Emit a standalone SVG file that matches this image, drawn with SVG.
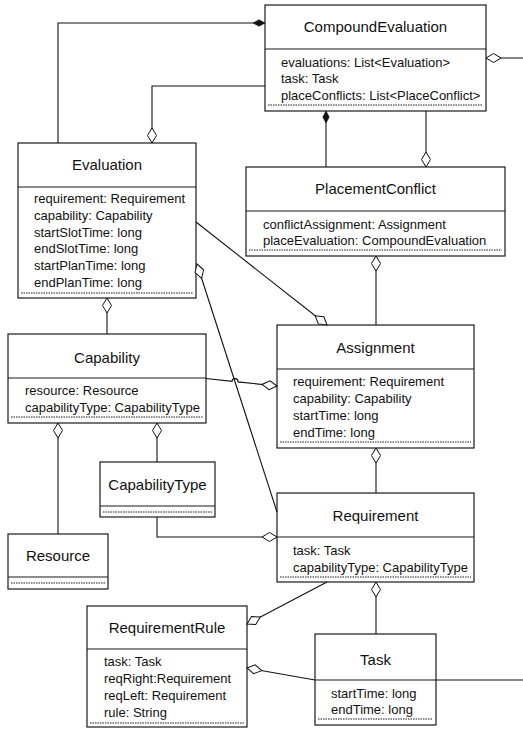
<svg xmlns="http://www.w3.org/2000/svg" width="523" height="731" viewBox="0 0 523 731">
<style>
.box{fill:#fff;stroke:#1a1a1a;stroke-width:1.2}
.sep{stroke:#1a1a1a;stroke-width:1.2}
.dot{stroke:#1a1a1a;stroke-width:1;stroke-dasharray:1.5 1}
.title{font-family:"Liberation Sans",Arial,sans-serif;font-size:15px;fill:#111;text-anchor:middle}
.attr{font-family:"Liberation Sans",Arial,sans-serif;font-size:13px;fill:#111}
.conn{fill:none;stroke:#111;stroke-width:1.1}
</style>
<defs>
<marker id="od" markerUnits="userSpaceOnUse" markerWidth="18" markerHeight="12" viewBox="-1 -6 18 12" refX="0" refY="0" orient="auto" overflow="visible"><path d="M0,0 L7.5,-4.5 L15,0 L7.5,4.5 Z" fill="#fff" stroke="#111" stroke-width="1"/></marker>
<marker id="fd" markerUnits="userSpaceOnUse" markerWidth="14" markerHeight="8" viewBox="-1 -4 14 8" refX="0" refY="0" orient="auto" overflow="visible"><path d="M0,0 L6,-3.2 L12,0 L6,3.2 Z" fill="#111" stroke="#111" stroke-width="0.6"/></marker>
</defs>
<rect width="523" height="731" fill="#fff"/>

<g id="CompoundEvaluation">
<rect class="box" x="265" y="5" width="221" height="106"/>
<line class="sep" x1="265" y1="49" x2="486" y2="49"/>
<text class="title" x="375.5" y="32">CompoundEvaluation</text>
<text class="attr" x="281" y="66.5">evaluations: List&lt;Evaluation&gt;</text>
<text class="attr" x="281" y="83">task: Task</text>
<text class="attr" x="281" y="99.5">placeConflicts: List&lt;PlaceConflict&gt;</text>
<line class="dot" x1="268" y1="105" x2="483" y2="105"/>
</g>

<g id="Evaluation">
<rect class="box" x="18" y="143" width="178" height="155"/>
<line class="sep" x1="18" y1="187" x2="196" y2="187"/>
<text class="title" x="107" y="170">Evaluation</text>
<text class="attr" x="34" y="203">requirement: Requirement</text>
<text class="attr" x="34" y="219.8">capability: Capability</text>
<text class="attr" x="34" y="236.6">startSlotTime: long</text>
<text class="attr" x="34" y="253.4">endSlotTime: long</text>
<text class="attr" x="34" y="270.2">startPlanTime: long</text>
<text class="attr" x="34" y="287">endPlanTime: long</text>
<line class="dot" x1="21" y1="293" x2="193" y2="293"/>
</g>

<g id="PlacementConflict">
<rect class="box" x="246" y="167" width="259" height="89"/>
<line class="sep" x1="246" y1="211" x2="505" y2="211"/>
<text class="title" x="375.5" y="194">PlacementConflict</text>
<text class="attr" x="263" y="228.5">conflictAssignment: Assignment</text>
<text class="attr" x="263" y="244.5">placeEvaluation: CompoundEvaluation</text>
<line class="dot" x1="249" y1="250" x2="502" y2="250"/>
</g>

<g id="Capability">
<rect class="box" x="8" y="334" width="198" height="89"/>
<line class="sep" x1="8" y1="378" x2="206" y2="378"/>
<text class="title" x="107" y="363">Capability</text>
<text class="attr" x="25" y="395">resource: Resource</text>
<text class="attr" x="25" y="412">capabilityType: CapabilityType</text>
<line class="dot" x1="11" y1="417" x2="203" y2="417"/>
</g>

<g id="Assignment">
<rect class="box" x="277" y="325" width="197" height="123"/>
<line class="sep" x1="277" y1="369" x2="474" y2="369"/>
<text class="title" x="375.5" y="353">Assignment</text>
<text class="attr" x="293" y="386">requirement: Requirement</text>
<text class="attr" x="293" y="403">capability: Capability</text>
<text class="attr" x="293" y="420">startTime: long</text>
<text class="attr" x="293" y="437">endTime: long</text>
<line class="dot" x1="280" y1="442" x2="471" y2="442"/>
</g>

<g id="CapabilityType">
<rect class="box" x="100" y="462" width="115" height="55"/>
<line class="sep" x1="100" y1="506" x2="215" y2="506"/>
<text class="title" x="157.5" y="490">CapabilityType</text>
<line class="dot" x1="103" y1="512" x2="212" y2="512"/>
</g>

<g id="Resource">
<rect class="box" x="8" y="534" width="100" height="55"/>
<line class="sep" x1="8" y1="577" x2="108" y2="577"/>
<text class="title" x="58" y="561">Resource</text>
<line class="dot" x1="11" y1="583" x2="105" y2="583"/>
</g>

<g id="Requirement">
<rect class="box" x="277" y="493" width="197" height="89"/>
<line class="sep" x1="277" y1="537" x2="474" y2="537"/>
<text class="title" x="375.5" y="521">Requirement</text>
<text class="attr" x="293" y="554.5">task: Task</text>
<text class="attr" x="293" y="571.5">capabilityType: CapabilityType</text>
<line class="dot" x1="280" y1="577" x2="471" y2="577"/>
</g>

<g id="RequirementRule">
<rect class="box" x="87" y="606" width="160" height="121"/>
<line class="sep" x1="87" y1="649" x2="247" y2="649"/>
<text class="title" x="167" y="633">RequirementRule</text>
<text class="attr" x="104" y="666">task: Task</text>
<text class="attr" x="104" y="683">reqRight:Requirement</text>
<text class="attr" x="104" y="700">reqLeft: Requirement</text>
<text class="attr" x="104" y="716.5">rule: String</text>
<line class="dot" x1="90" y1="723" x2="244" y2="723"/>
</g>

<g id="Task">
<rect class="box" x="315" y="634" width="121" height="91"/>
<line class="sep" x1="315" y1="680" x2="436" y2="680"/>
<text class="title" x="375.5" y="665">Task</text>
<text class="attr" x="331" y="697.5">startTime: long</text>
<text class="attr" x="331" y="714">endTime: long</text>
<line class="dot" x1="318" y1="719" x2="433" y2="719"/>
</g>

<g id="connectors">
<path class="conn" marker-start="url(#fd)" d="M265,23 L58,23 L58,143"/>
<path class="conn" marker-start="url(#od)" d="M152,143 L152,86 L265,86"/>
<path class="conn" marker-start="url(#od)" d="M486,58 L523,58"/>
<path class="conn" marker-start="url(#fd)" d="M326,111 L326,167"/>
<path class="conn" marker-start="url(#od)" d="M426,167 L426,111"/>
<path class="conn" marker-start="url(#od)" d="M376,256 L376,325"/>
<path class="conn" marker-start="url(#od)" d="M327,325 L196,222"/>
<path class="conn" marker-start="url(#od)" d="M197,264 L277,512"/>
<path class="conn" marker-start="url(#od)" d="M107,298 L107,334"/>
<path class="conn" marker-start="url(#od)" d="M277,386 L238,381.9 A3,3 0 0 0 232,381.3 L206,378.5"/>
<path class="conn" marker-start="url(#od)" d="M58,423 L58,534"/>
<path class="conn" marker-start="url(#od)" d="M157,423 L157,462"/>
<path class="conn" marker-start="url(#od)" d="M376,448 L376,493"/>
<path class="conn" marker-start="url(#od)" d="M277,537 L157,537 L157,517"/>
<path class="conn" marker-start="url(#od)" d="M376,582 L376,634"/>
<path class="conn" marker-start="url(#od)" d="M247,624 L327,582"/>
<path class="conn" marker-start="url(#od)" d="M247,668 L315,680"/>
<path class="conn" d="M436,680 L523,680"/>
</g>
</svg>
